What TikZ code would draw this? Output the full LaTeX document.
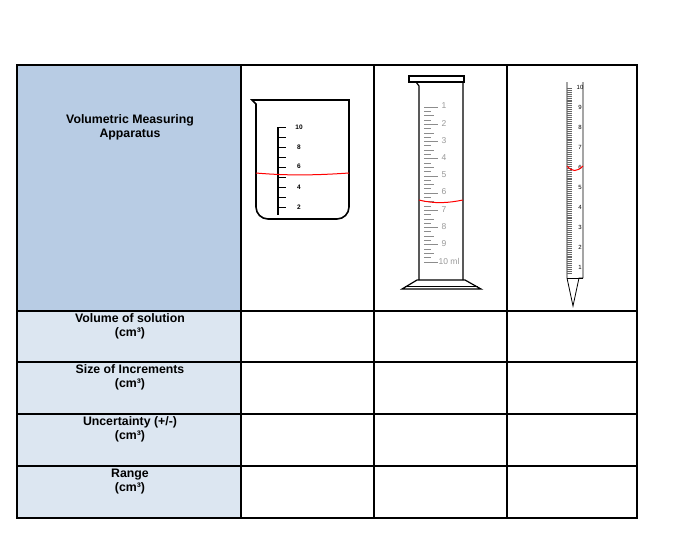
\documentclass[tikz,border=0pt]{standalone}
\usepackage{fontspec}
\setmainfont{Liberation Sans}
\begin{document}
\begin{tikzpicture}[x=1pt,y=-1pt,
  lbl/.style={font=\bfseries\fontsize{12.3}{14}\selectfont,align=center,anchor=north},
  grid/.style={line width=1.6pt},
  grad/.style={font=\fontsize{6}{6}\selectfont},
  ggrad/.style={font=\fontsize{8.5}{8.5}\selectfont,text=black!40}]
\useasboundingbox (0,0) rectangle (700,552);
\fill[white] (0,0) rectangle (700,552);
\definecolor{hdr}{HTML}{B8CCE4}
\definecolor{rowc}{HTML}{DCE6F1}
\fill[hdr] (17,65) rectangle (241,311);
\fill[rowc] (17,311) rectangle (241,518);
% grid
\draw[grid] (17,65) rectangle (637,518);
\foreach \x in {241,374,507} \draw[grid] (\x,65) -- (\x,518);
\foreach \y in {311,362,414,466} \draw[grid] (17,\y) -- (637,\y);
% labels
\node[lbl] (h) at (130,111) {Volumetric Measuring\\Apparatus};
\node[lbl] (r1) at (130,310) {Volume of solution\\(cm³)};
\node[lbl] (r2) at (130,361) {Size of Increments\\(cm³)};
\node[lbl] (r3) at (130,413) {Uncertainty (+/-)\\(cm³)};
\node[lbl] (r4) at (130,465) {Range\\(cm³)};
% beaker
\draw[line width=1.6pt] (252,100) -- (256,104) -- (256,207) arc[start angle=180,end angle=90,radius=12] -- (337,219) arc[start angle=90,end angle=0,radius=12] -- (349,100) -- cycle;
\draw[line width=1.6pt] (278,127) -- (278,215);
\foreach \y in {127,137,...,207} \draw[line width=1pt] (278,\y) -- (286,\y);
\foreach \v/\y in {10/127,8/147,6/166,4/187,2/207}
  \node[grad,font=\bfseries\fontsize{6.5}{6.5}\selectfont] at (299,\y) {\v};
\draw[red,line width=1pt] (256,173) .. controls (290,176) and (320,175) .. (349,173);
% cylinder
\draw[line width=1.2pt] (409,76) rectangle (464,82);
\draw[line width=1.2pt] (416,82) -- (419,86) -- (419,280) (463,82) -- (463,280);
\draw[line width=1.2pt] (417,280) -- (465,280) -- (481,289) -- (402,289) -- cycle;
\draw[line width=0.6pt] (405,286) -- (478,286);
\foreach \i in {0,...,36} {
  \pgfmathsetmacro\yy{107+\i*4.3}
  \pgfmathsetmacro\ll{mod(\i,4)==0 ? 14 : (mod(\i,2)==0 ? 10 : 7)}
  \draw[black!45,line width=0.6pt] (424,\yy) -- ++(\ll,0);}
\foreach \v in {1,...,9} \node[ggrad] at (444,{106+(\v-1)*17.2}) {\v};
\node[ggrad] at (449,261) {10 ml};
\draw[red,line width=1pt] (419,200) .. controls (435,204) and (448,203) .. (463,200);
% burette
\draw[line width=0.8pt] (567,82) -- (567,278) -- (573,306) -- (579,278) -- (583,278) (583,82) -- (583,278);
\draw[line width=0.6pt] (567,278) -- (583,278);
\foreach \i in {0,...,95} {
  \pgfmathsetmacro\yy{88+\i*1.95}
  \draw[black!60,line width=0.35pt] (567,\yy) -- ++(5,0);}
\foreach \v in {1,...,10} \node[font=\fontsize{6}{6}\selectfont,inner sep=0] at (580,{267-(\v-1)*19.9}) {\v};
\draw[red,line width=1pt] (567,166) .. controls (572,172) and (577,172) .. (583,166);
\end{tikzpicture}
\end{document}
